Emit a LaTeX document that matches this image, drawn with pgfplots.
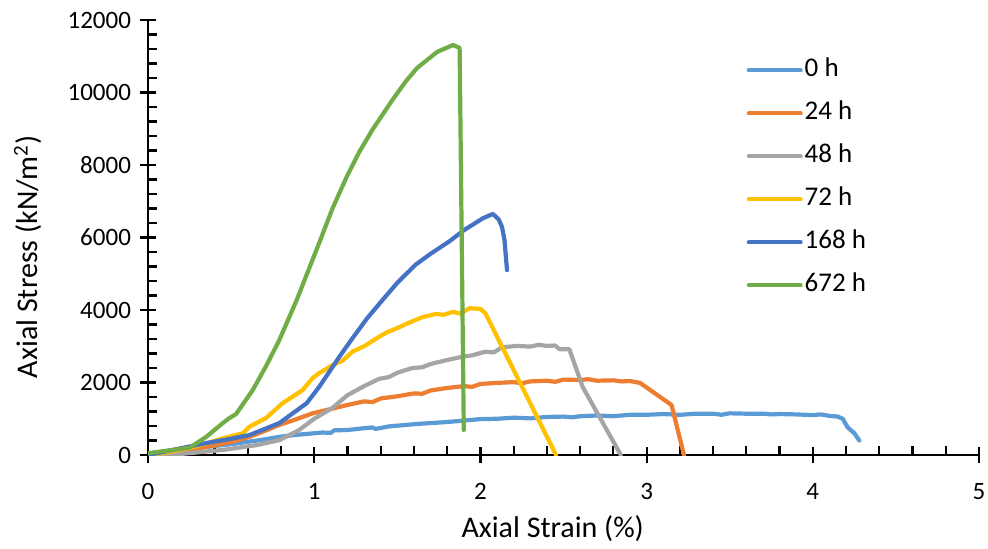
\documentclass[border=0pt]{standalone}
\usepackage{fontspec}
\setmainfont{Carlito}
\usepackage{pgfplots}
\pgfplotsset{compat=1.18}

\definecolor{c0}{HTML}{5B9BD5}
\definecolor{c24}{HTML}{ED7D31}
\definecolor{c48}{HTML}{A5A5A5}
\definecolor{c72}{HTML}{FFC000}
\definecolor{c168}{HTML}{4472C4}
\definecolor{c672}{HTML}{70AD47}

\begin{document}
\begin{tikzpicture}
\begin{axis}[
    scale only axis,
    width=415.5pt, height=217.5pt,
    xmin=0, xmax=5, ymin=0, ymax=12000,
    axis lines=left,
    axis line style={-, black, line width=1.2pt},
    xtick={0,1,2,3,4,5},
    ytick={0,2000,4000,6000,8000,10000,12000},
    minor x tick num=4, minor y tick num=4,
    tick align=center,
    major tick length=8pt, minor tick length=4.5pt,
    tick style={black, line width=1.1pt},
    minor x tick style={yshift=2.25pt},
    minor y tick style={xshift=2.25pt},
    scaled y ticks=false,
    /pgf/number format/.cd, 1000 sep={}, assume math mode=true,
    /pgfplots/.cd,
    tick label style={font=\fontsize{12.5}{14}\selectfont},
    xticklabel style={yshift=-6.5pt},
    yticklabel style={xshift=-1pt},
    xlabel={Axial Strain (\%)},
    ylabel={Axial Stress (kN/m\textsuperscript{2})},
    label style={font=\fontsize{15}{17}\selectfont},
    xlabel style={at={(axis description cs:0.487,-0.1885)}, anchor=base},
    ylabel style={at={(axis description cs:-0.1324,0.456)}, anchor=base, rotate=0},
    legend style={draw=none, fill=none, at={(axis description cs:0.72,0.9126)},
        anchor=north west, inner sep=0pt, row sep=9.5pt,
        font=\fontsize{13.5}{15}\selectfont,
        nodes={inner sep=1pt, text height=8pt, text depth=2pt}},
    legend cell align=left,
    legend image code/.code={\draw[#1, line width=2pt] (0pt,0pt) -- (26pt,0pt);},
    every axis plot/.append style={line width=2.1pt, line join=round, line cap=round},
]
\addplot[c0] coordinates {
(0,0) (0.05,40) (0.1,80) (0.2,150) (0.3,200) (0.4,250) (0.5,300) (0.61,370)
(0.7,430) (0.79,500) (0.9,560) (1.0,600) (1.05,620) (1.1,610) (1.12,680)
(1.2,690) (1.3,740) (1.35,760) (1.37,720) (1.45,790) (1.55,830) (1.63,860)
(1.7,880) (1.8,910) (1.9,950) (2.0,990) (2.1,1000) (2.2,1030) (2.3,1010)
(2.4,1050) (2.5,1060) (2.55,1040) (2.6,1070) (2.7,1090) (2.8,1070) (2.9,1110)
(3.0,1110) (3.1,1130) (3.2,1110) (3.3,1140) (3.4,1140) (3.45,1110) (3.5,1150)
(3.6,1140) (3.7,1140) (3.75,1120) (3.8,1130) (3.9,1120) (4.0,1100) (4.05,1120)
(4.1,1080) (4.15,1060) (4.18,1000) (4.21,760) (4.25,600) (4.28,400)
};
\addlegendentry{0 h}
\addplot[c24] coordinates {
(0,0) (0.1,50) (0.2,110) (0.35,220) (0.5,360) (0.61,500) (0.7,660) (0.79,830)
(0.9,1000) (0.99,1150) (1.1,1270) (1.2,1380) (1.3,1480) (1.35,1460) (1.4,1560)
(1.5,1620) (1.6,1700) (1.65,1690) (1.7,1780) (1.8,1850) (1.9,1900) (1.95,1880)
(2.0,1960) (2.1,1990) (2.2,2010) (2.25,1980) (2.3,2030) (2.4,2050) (2.45,2020)
(2.5,2080) (2.6,2070) (2.65,2090) (2.7,2050) (2.8,2060) (2.85,2030) (2.9,2040)
(2.96,1990) (3.15,1380) (3.225,0)
};
\addlegendentry{24 h}
\addplot[c48] coordinates {
(0,0) (0.2,30) (0.45,140) (0.65,270) (0.79,410) (0.91,690) (1.0,1000)
(1.11,1300) (1.2,1650) (1.3,1900) (1.39,2100) (1.45,2150) (1.5,2270)
(1.59,2400) (1.65,2420) (1.7,2510) (1.8,2620) (1.89,2710) (1.95,2750)
(2.03,2850) (2.08,2830) (2.13,2970) (2.22,3010) (2.3,2990) (2.35,3040)
(2.4,3010) (2.45,3020) (2.475,2920) (2.535,2920) (2.615,1880) (2.845,0)
};
\addlegendentry{48 h}
\addplot[c72] coordinates {
(0,0) (0.1,60) (0.25,190) (0.35,320) (0.45,460) (0.57,600) (0.61,780)
(0.71,1020) (0.81,1430) (0.93,1790) (0.99,2120) (1.03,2260) (1.11,2480)
(1.17,2600) (1.23,2850) (1.3,3000) (1.39,3260) (1.44,3390) (1.5,3500)
(1.56,3630) (1.65,3800) (1.73,3890) (1.78,3870) (1.835,3950) (1.88,3900)
(1.935,4050) (2.0,4030) (2.03,3910) (2.455,0)
};
\addlegendentry{72 h}
\addplot[c168] coordinates {
(0,0) (0.15,140) (0.35,330) (0.5,450) (0.61,550) (0.79,880) (0.955,1430)
(1.03,1880) (1.15,2700) (1.23,3220) (1.32,3780) (1.41,4270) (1.5,4750)
(1.61,5250) (1.7,5550) (1.815,5900) (1.9,6200) (2.015,6530) (2.075,6650)
(2.11,6500) (2.13,6290) (2.145,5930) (2.16,5100)
};
\addlegendentry{168 h}
\addplot[c672] coordinates {
(0,50) (0.19,165) (0.25,200) (0.35,500) (0.45,880) (0.49,1020) (0.53,1130)
(0.63,1790) (0.71,2450) (0.79,3170) (0.895,4280) (1.03,5850) (1.11,6800)
(1.195,7670) (1.27,8350) (1.35,8970) (1.47,9790) (1.55,10300) (1.62,10680)
(1.74,11120) (1.835,11310) (1.875,11230) (1.9,690)
};
\addlegendentry{672 h}
\end{axis}
\pgfresetboundingbox
\useasboundingbox (current axis.south west) ++(-74pt,-46.5pt) rectangle ++(494pt,274pt);
\end{tikzpicture}
\end{document}
